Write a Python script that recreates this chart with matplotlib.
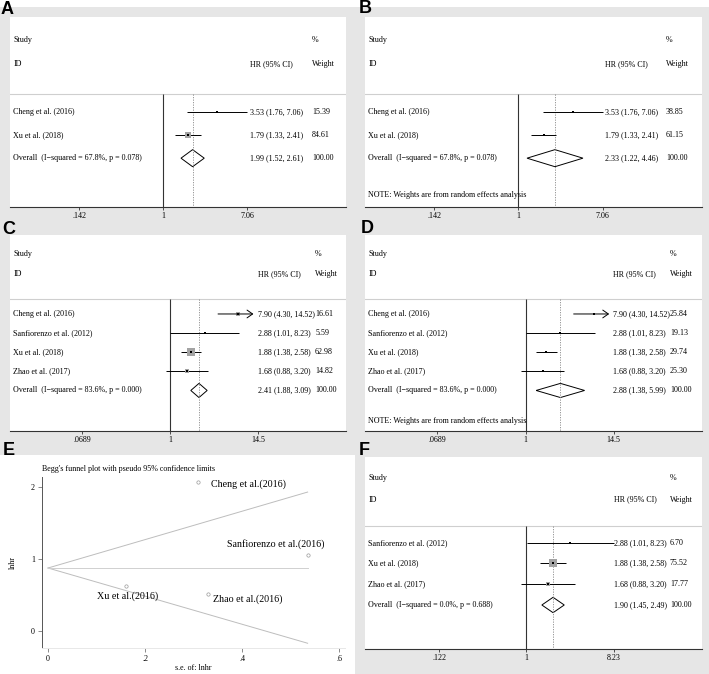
import matplotlib
matplotlib.use("Agg")
import matplotlib.pyplot as plt
from matplotlib.patches import Rectangle
from matplotlib.transforms import blended_transform_factory

plt.rcParams['font.family'] = ['Liberation Serif', 'DejaVu Serif']

W, H = 709, 674

# ---- data ----
studies_ab = ["Cheng et al. (2016)", "Xu et al. (2018)"]
hr_ab = [3.53, 1.79]
lo_ab = [1.76, 1.33]
hi_ab = [7.06, 2.41]
wt_a = [15.39, 84.61]
wt_b = [38.85, 61.15]
overall_a = [1.99, 1.52, 2.61]
overall_b = [2.33, 1.22, 4.46]
het_ab = "I\u2212squared = 67.8%, p = 0.078"

studies_cd = ["Cheng et al. (2016)", "Sanfiorenzo et al. (2012)", "Xu et al. (2018)", "Zhao et al. (2017)"]
hr_cd = [7.90, 2.88, 1.88, 1.68]
lo_cd = [4.30, 1.01, 1.38, 0.88]
hi_cd = [14.52, 8.23, 2.58, 3.20]
wt_c = [16.61, 5.59, 62.98, 14.82]
wt_d = [25.84, 19.13, 29.74, 25.30]
overall_c = [2.41, 1.88, 3.09]
overall_d = [2.88, 1.38, 5.99]
het_cd = "I\u2212squared = 83.6%, p = 0.000"

studies_f = ["Sanfiorenzo et al. (2012)", "Xu et al. (2018)", "Zhao et al. (2017)"]
hr_f = [2.88, 1.88, 1.68]
lo_f = [1.01, 1.38, 0.88]
hi_f = [8.23, 2.58, 3.20]
wt_f = [6.70, 75.52, 17.77]
overall_f = [1.90, 1.45, 2.49]
het_f = "I\u2212squared = 0.0%, p = 0.688"

ticks_ab = [0.142, 1, 7.06]
ticklab_ab = [".142", "1", "7.06"]
ticks_cd = [0.0689, 1, 14.5]
ticklab_cd = [".0689", "1", "14.5"]
ticks_f = [0.122, 1, 8.23]
ticklab_f = [".122", "1", "8.23"]

# funnel plot (panel E)
funnel_names = ["Cheng et al.(2016)", "Sanfiorenzo et al.(2016)", "Xu et al.(2016)", "Zhao et al.(2016)"]
funnel_se = [0.31, 0.535, 0.16, 0.33]
funnel_lnhr = [2.07, 1.06, 0.63, 0.52]
funnel_label_x = [0.336, 0.368, 0.10, 0.339]
funnel_label_y = [2.04, 1.21, 0.48, 0.435]
limit_se = [0, 0.535]
limit_upper = [0.875, 1.93]
limit_lower = [0.875, -0.17]
limit_mid = [0.875, 0.875]

NOTE = "NOTE: Weights are from random effects analysis"
FS = 5.8
GRAY_BG = '#e6e6e6'


def rect(x0, y0, x1, y1):
    return [x0 / W, 1 - y1 / H, (x1 - x0) / W, (y1 - y0) / H]


def forest(fig, box, studies, hr, lo, hi, wt, overall, het, xlim, ticks, ticklabs,
           hr_col, wt_col, box_k=None, note=False):
    ax = fig.add_axes(rect(*box))
    ax.set_facecolor('white')
    n = len(studies)
    ybot = n + 6.25
    ax.set_xscale('log')
    ax.set_xlim(xlim)
    ax.set_ylim(ybot, 0)
    for s in ['top', 'left', 'right']:
        ax.spines[s].set_visible(False)
    ax.spines['bottom'].set_color('#333333')
    ax.spines['bottom'].set_linewidth(0.8)
    ax.set_yticks([])
    ax.set_xticks(ticks)
    ax.set_xticklabels(ticklabs)
    ax.minorticks_off()
    ax.tick_params(axis='x', length=2, width=0.6, pad=1.5, labelsize=FS, color='#333333')
    tr = blended_transform_factory(ax.transAxes, ax.transData)

    hline_y = 3.33
    ax.axhline(hline_y, color='#cfcfcf', lw=0.8)
    ax.vlines(1, hline_y, ybot, color='#333333', lw=0.8)
    ax.vlines(overall[0], hline_y, ybot, color='#888888', lw=0.6, linestyles=(0, (1.5, 1.5)))

    ax.text(0.01, 1.0, "Study", transform=tr, fontsize=FS, va='center')
    ax.text(0.01, 2.05, "ID", transform=tr, fontsize=FS, va='center')
    ax.text(hr_col, 2.05, "HR (95% CI)", transform=tr, fontsize=FS, va='center')
    ax.text(wt_col, 1.0, "%", transform=tr, fontsize=FS, va='center')
    ax.text(wt_col, 2.05, "Weight", transform=tr, fontsize=FS, va='center')

    top = ticks[-1]
    for i in range(n):
        y = 4.13 + i
        if hi[i] > top:
            # CI runs past the axis: open arrow head
            ax.annotate('', xy=(top * 0.87, y), xytext=(lo[i], y),
                        arrowprops=dict(arrowstyle='->,head_length=0.5,head_width=0.35', lw=0.7,
                                        color='black', mutation_scale=8, shrinkA=0, shrinkB=0))
        else:
            ax.hlines(y, lo[i], hi[i], color='black', lw=0.7)
        if box_k is not None:
            side = box_k * wt[i] ** 0.5
            ax.plot(hr[i], y, marker='s', ms=side * 72 / 100, color='#a3a3a3', mew=0)
        ax.plot(hr[i], y, marker='s', ms=1.6, color='black', mew=0)
        ax.text(0.01, y, studies[i], transform=tr, fontsize=FS, va='center')
        ax.text(hr_col, y, "%.2f (%.2f, %.2f)" % (hr[i], lo[i], hi[i]), transform=tr, fontsize=FS, va='center')
        ax.text(wt_col, y, "%.2f" % wt[i], transform=tr, fontsize=FS, va='center')

    yo = 4.13 + n
    est, olo, ohi = overall
    ax.fill([olo, est, ohi, est], [yo, yo - 0.37, yo, yo + 0.37], facecolor='none',
            edgecolor='black', lw=0.7)
    ax.text(0.01, yo, "Overall  (" + het + ")", transform=tr, fontsize=FS, va='center')
    ax.text(hr_col, yo, "%.2f (%.2f, %.2f)" % (est, olo, ohi), transform=tr, fontsize=FS, va='center')
    ax.text(wt_col, yo, "100.00", transform=tr, fontsize=FS, va='center')
    if note:
        ax.text(0.01, yo + 1.58, NOTE, transform=tr, fontsize=FS, va='center')
    return ax


fig = plt.figure(figsize=(W / 100, H / 100), dpi=100)
fig.patch.set_facecolor('white')
fig.patches.append(Rectangle((0, 1 - 455 / H), 1, (455 - 7) / H, transform=fig.transFigure,
                             facecolor=GRAY_BG, edgecolor='none', zorder=-5))
fig.patches.append(Rectangle((355 / W, 0), (W - 355) / W, (H - 455) / H, transform=fig.transFigure,
                             facecolor=GRAY_BG, edgecolor='none', zorder=-5))

xl_ab = (0.0285, 70.5)
xl_cd = (0.00773, 210)
xl_f = (0.0203, 69.2)

forest(fig, (10, 17, 346, 207), studies_ab, hr_ab, lo_ab, hi_ab, wt_a, overall_a, het_ab,
       xl_ab, ticks_ab, ticklab_ab, 0.714, 0.899, box_k=0.7)
forest(fig, (365, 17, 702, 207), studies_ab, hr_ab, lo_ab, hi_ab, wt_b, overall_b, het_ab,
       xl_ab, ticks_ab, ticklab_ab, 0.712, 0.893, note=True)
forest(fig, (10, 235, 346, 431), studies_cd, hr_cd, lo_cd, hi_cd, wt_c, overall_c, het_cd,
       xl_cd, ticks_cd, ticklab_cd, 0.738, 0.908, box_k=0.9)
forest(fig, (365, 235, 702, 431), studies_cd, hr_cd, lo_cd, hi_cd, wt_d, overall_d, het_cd,
       xl_cd, ticks_cd, ticklab_cd, 0.737, 0.905, note=True)
forest(fig, (365, 457, 702, 649), studies_f, hr_f, lo_f, hi_f, wt_f, overall_f, het_f,
       xl_f, ticks_f, ticklab_f, 0.74, 0.905, box_k=1.0)

# panel E: Begg's funnel plot
ax = fig.add_axes(rect(42, 477, 345, 648))
ax.set_xlim(-0.0124, 0.612)
ax.set_ylim(-0.236, 2.139)
ax.spines['top'].set_visible(False)
ax.spines['right'].set_visible(False)
ax.spines['left'].set_color('#555555')
ax.spines['left'].set_linewidth(0.7)
ax.spines['bottom'].set_color('#e8e8e8')
ax.spines['bottom'].set_linewidth(0.7)
ax.plot(limit_se, limit_upper, color='#bdbdbd', lw=0.7)
ax.plot(limit_se, limit_lower, color='#bdbdbd', lw=0.7)
ax.plot(limit_se, limit_mid, color='#d0d0d0', lw=0.7)
ax.plot(funnel_se, funnel_lnhr, 'o', ms=2.4, mfc='none', mec='#9a9a9a', mew=0.5, ls='none')
for name, lx, ly in zip(funnel_names, funnel_label_x, funnel_label_y):
    ax.text(lx, ly, name, fontsize=7.2, va='center')
ax.set_xticks([0, 0.2, 0.4, 0.6])
ax.set_xticklabels(["0", ".2", ".4", ".6"])
ax.set_yticks([0, 1, 2])
ax.set_yticklabels(["0", "1", "2"])
ax.tick_params(length=3, width=0.6, color='#777777', labelsize=FS, pad=2)
ax.set_xlabel("s.e. of: lnhr", fontsize=FS, labelpad=0.5)
ax.set_ylabel("lnhr", fontsize=FS, labelpad=10)
fig.text(42 / W, 1 - 469 / H, "Begg's funnel plot with pseudo 95% confidence limits",
         fontsize=FS, va='center')

# panel letters
letters = [("A", 1, 14), ("B", 359, 13), ("C", 2, 234), ("D", 361, 233), ("E", 3, 455), ("F", 359, 455)]
for lab, x, y in letters:
    fig.text(x / W, 1 - y / H, lab, fontsize=13, fontweight='bold',
             family=['Liberation Sans', 'DejaVu Sans'], va='baseline')

fig.savefig("out.png", dpi=100, facecolor=fig.get_facecolor())
